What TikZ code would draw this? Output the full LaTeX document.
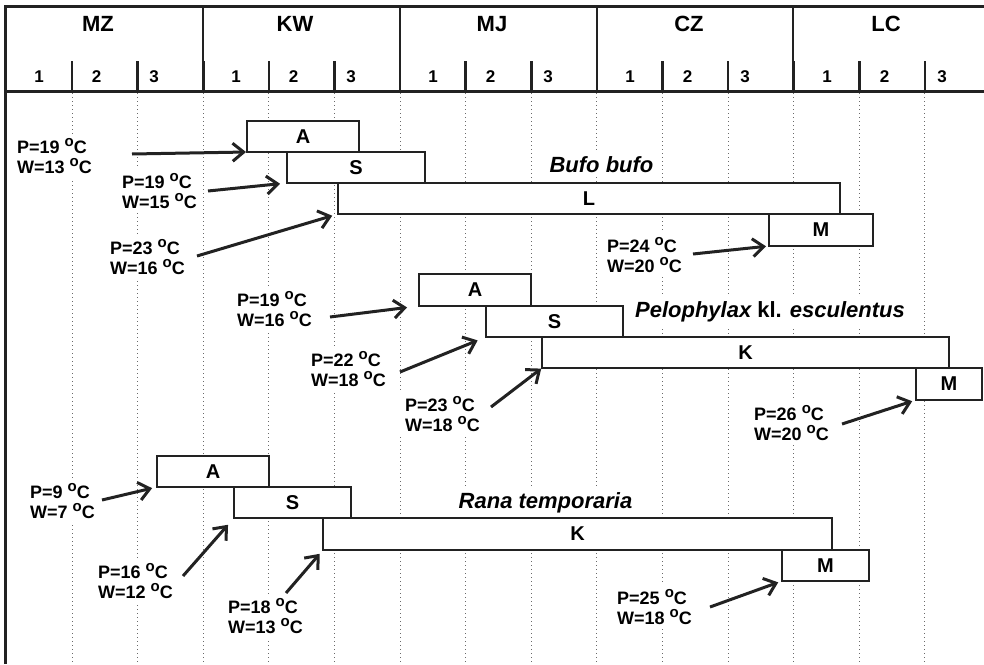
\documentclass[tikz,border=0pt]{standalone}
\usepackage{fontspec}
\setmainfont{Liberation Sans}
\usetikzlibrary{arrows.meta}
\definecolor{lineclr}{HTML}{222222}
\definecolor{gridclr}{HTML}{6A6A6A}
\newcommand{\degc}{\raisebox{6.5pt}{\fontsize{15}{15}\selectfont o}C}

\begin{document}
\begin{tikzpicture}[
  x=1pt, y=-1pt,
  bar/.style={rectangle, draw=lineclr, fill=white, line width=1.6pt, inner sep=0pt,
    outer sep=0pt, anchor=north west, font=\fontsize{20}{22}\selectfont\bfseries},
  temp/.style={fill=white, inner sep=5pt, anchor=west, align=left,
    font=\fontsize{18}{20}\selectfont\bfseries},
  species/.style={fill=white, inner sep=5pt, anchor=base,
    font=\fontsize{22}{24}\selectfont\bfseries\itshape},
  month/.style={font=\fontsize{22}{24}\selectfont\bfseries},
  decade/.style={font=\fontsize{17}{19}\selectfont\bfseries},
  grid/.style={draw=gridclr, line width=1pt, dash pattern=on 1.2pt off 2.8pt},
  arrow/.style={-{Straight Barb[length=11pt, width=18pt]}, line width=3pt, draw=lineclr}
]
\useasboundingbox (0,0) rectangle (984,664);

% header
\draw[line width=3pt, lineclr] (5,664) -- (5,6.5) -- (984,6.5);
\draw[line width=3pt, lineclr] (5,91) -- (984,91);
\foreach \x in {203,400,597,793} \draw[line width=2.5pt, lineclr] (\x,6.5) -- (\x,91);
\foreach \k in {1,...,14} {
  \draw[line width=2.5pt, lineclr] ({6.5+65.6*\k},61) -- ({6.5+65.6*\k},91);
  \draw[grid] ({6.5+65.6*\k},93) -- ({6.5+65.6*\k},664);
}
\foreach \m/\name in {0/MZ,1/KW,2/MJ,3/CZ,4/LC} {
  \node[month] (m\name) at ({98+197*\m},24) {\name};
  \foreach \k in {1,2,3}
    \node[decade] (d\name\k) at ({39+197*\m+57.5*(\k-1)},77) {\k};
}

% temperatures
\node[temp] (tbA) at (12,156) {P=19 \degc\\W=13 \degc};
\node[temp] (tbS) at (117,191) {P=19 \degc\\W=15 \degc};
\node[temp] (tbL) at (105,257) {P=23 \degc\\W=16 \degc};
\node[temp] (tbM) at (602,255) {P=24 \degc\\W=20 \degc};
\node[temp] (tpA) at (232,309) {P=19 \degc\\W=16 \degc};
\node[temp] (tpS) at (306,369) {P=22 \degc\\W=18 \degc};
\node[temp] (tpK) at (400,414) {P=23 \degc\\W=18 \degc};
\node[temp] (tpM) at (749,423) {P=26 \degc\\W=20 \degc};
\node[temp] (trA) at (25,501) {P=9 \degc\\W=7 \degc};
\node[temp] (trS) at (93,581) {P=16 \degc\\W=12 \degc};
\node[temp] (trK) at (223,616) {P=18 \degc\\W=13 \degc};
\node[temp] (trM) at (612,607) {P=25 \degc\\W=18 \degc};

% species
\node[species] (bufo) at (601.5,172) {Bufo bufo};
\node[species] (pelo) at (770,317) {Pelophylax {\upshape kl.} esculentus};
\node[species] (rana) at (545.5,508) {Rana temporaria};

% Bufo bufo
\node[bar, minimum width=112pt, minimum height=31pt] (bA) at (247,121) {A};
\node[bar, minimum width=138pt, minimum height=31pt] (bS) at (287,152) {S};
\node[bar, minimum width=502pt, minimum height=31pt] (bL) at (338,183) {L};
\node[bar, minimum width=104pt, minimum height=32pt] (bM) at (769,214) {M};
% Pelophylax kl. esculentus
\node[bar, minimum width=112pt, minimum height=32pt] (pA) at (419,274) {A};
\node[bar, minimum width=137pt, minimum height=31pt] (pS) at (486,306) {S};
\node[bar, minimum width=407pt, minimum height=31pt] (pK) at (542,337) {K};
\node[bar, minimum width=66pt, minimum height=32pt] (pM) at (916,368) {M};
% Rana temporaria
\node[bar, minimum width=112pt, minimum height=31pt] (rA) at (157,456) {A};
\node[bar, minimum width=117pt, minimum height=31pt] (rS) at (234,487) {S};
\node[bar, minimum width=509pt, minimum height=32pt] (rK) at (323,518) {K};
\node[bar, minimum width=87pt, minimum height=31pt] (rM) at (782,550) {M};

% arrow tails
\coordinate (sbA) at (132,154);
\coordinate (sbS) at (208,191);
\coordinate (sbL) at (197,256);
\coordinate (sbM) at (693,254);
\coordinate (spA) at (330,317);
\coordinate (spS) at (400,372);
\coordinate (spK) at (491,407);
\coordinate (spM) at (842,424);
\coordinate (srA) at (102,500);
\coordinate (srS) at (183,576);
\coordinate (srK) at (286,593);
\coordinate (srM) at (710,607);

\draw[arrow, shorten >=1pt] (sbA) -- (bA.south west);
\draw[arrow, shorten >=7pt] (sbS) -- (bS.south west);
\draw[arrow, shorten >=6pt] (sbL) -- (bL.south west);
\draw[arrow, shorten >=3pt] (sbM) -- (bM.south west);
\draw[arrow, shorten >=12pt] (spA) -- (pA.south west);
\draw[arrow, shorten >=9pt] (spS) -- (pS.south west);
\draw[arrow, shorten >=1pt] (spK) -- (pK.south west);
\draw[arrow, shorten >=4pt] (spM) -- (pM.south west);
\draw[arrow, shorten >=5pt] (srA) -- (rA.south west);
\draw[arrow, shorten >=9pt] (srS) -- (rS.south west);
\draw[arrow, shorten >=5pt] (srK) -- (rK.south west);
\draw[arrow, shorten >=4pt] (srM) -- (rM.south west);
\end{tikzpicture}
\end{document}
